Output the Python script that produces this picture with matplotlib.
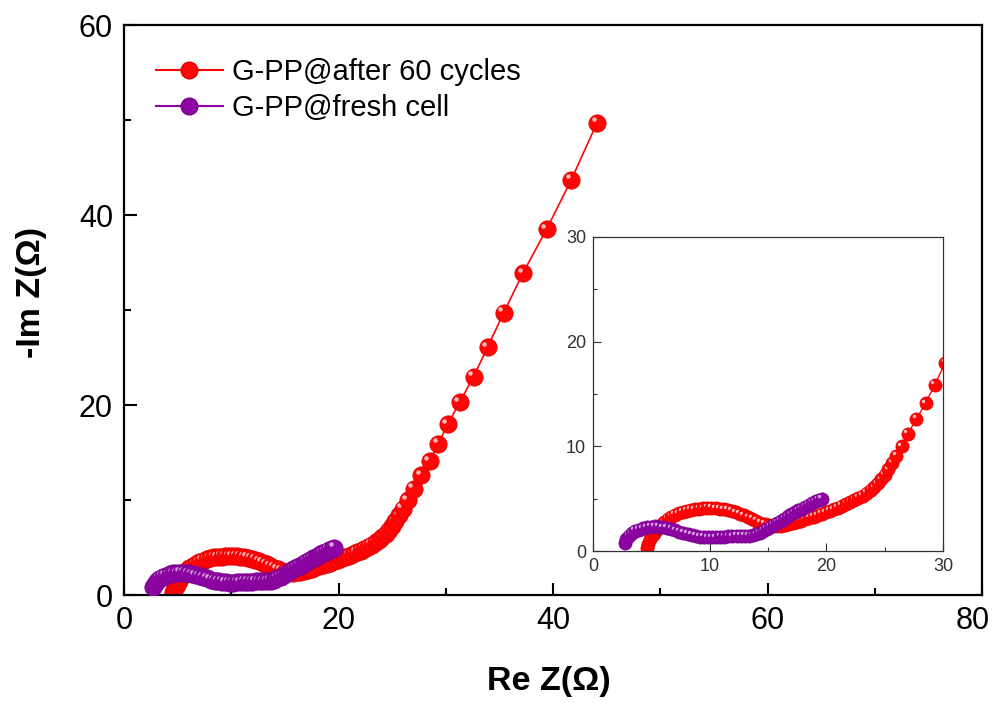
import matplotlib
matplotlib.use("Agg")
import matplotlib.pyplot as plt
from matplotlib.ticker import MultipleLocator, FuncFormatter
from matplotlib.transforms import offset_copy
from matplotlib.lines import Line2D

plt.rcParams['font.family'] = ['Liberation Sans', 'DejaVu Sans']

# Nyquist data: G-PP after 60 cycles
re_cycled = [4.6, 4.75, 4.9, 5.1, 5.3, 5.55, 5.8, 6.1, 6.4, 6.7, 7.0, 7.35, 7.7,
             8.05, 8.4, 8.75, 9.1, 9.45, 9.8, 10.15, 10.5, 10.85, 11.2, 11.55,
             11.9, 12.25, 12.6, 12.95, 13.3, 13.65, 14.0, 14.35, 14.7, 15.05,
             15.4, 15.75, 16.1, 16.45, 16.8, 17.15, 17.5, 17.85, 18.2, 18.55,
             18.9, 19.25, 19.6, 19.95, 20.3, 20.65, 21.0, 21.35, 21.7, 22.05,
             22.4, 22.75, 23.1, 23.45, 23.8, 24.1, 24.4, 24.7, 25.0, 25.3,
             25.65, 26.0, 26.45, 27.0, 27.7, 28.5, 29.3, 30.2, 31.3, 32.6,
             33.9, 35.4, 37.2, 39.4, 41.7, 44.1]
im_cycled = [0.3, 0.7, 1.1, 1.5, 1.85, 2.2, 2.5, 2.8, 3.05, 3.25, 3.45, 3.6, 3.75,
             3.85, 3.95, 4.0, 4.05, 4.08, 4.1, 4.1, 4.08, 4.05, 4.0, 3.92,
             3.82, 3.7, 3.55, 3.4, 3.22, 3.05, 2.88, 2.72, 2.58, 2.45,
             2.38, 2.35, 2.38, 2.45, 2.55, 2.65, 2.78, 2.9, 3.02, 3.15,
             3.28, 3.42, 3.56, 3.7, 3.85, 4.0, 4.15, 4.32, 4.5, 4.68,
             4.88, 5.08, 5.3, 5.55, 5.82, 6.1, 6.45, 6.85, 7.3, 7.8,
             8.4, 9.1, 10.0, 11.2, 12.6, 14.1, 15.9, 18.0, 20.3, 23.0,
             26.1, 29.7, 33.9, 38.5, 43.7, 49.7]

# Nyquist data: G-PP fresh cell
re_fresh = [2.7, 2.85, 3.05, 3.3, 3.6, 3.9, 4.25, 4.6, 4.95, 5.3, 5.65, 6.0,
            6.35, 6.7, 7.05, 7.4, 7.75, 8.1, 8.45, 8.8, 9.15, 9.5, 9.85, 10.2,
            10.55, 10.9, 11.25, 11.6, 11.95, 12.3, 12.65, 13.0, 13.35, 13.7,
            14.0, 14.3, 14.6, 14.9, 15.2, 15.5, 15.8, 16.1, 16.4, 16.7, 17.0,
            17.3, 17.6, 17.9, 18.2, 18.5, 18.8, 19.1, 19.35, 19.6]
im_fresh = [0.8, 1.15, 1.45, 1.7, 1.9, 2.05, 2.18, 2.27, 2.32, 2.35, 2.33, 2.28,
            2.2, 2.1, 1.98, 1.86, 1.74, 1.62, 1.52, 1.44, 1.38, 1.33, 1.3, 1.3,
            1.32, 1.35, 1.38, 1.4, 1.42, 1.43, 1.43, 1.44, 1.46, 1.5,
            1.6, 1.75, 1.92, 2.1, 2.3, 2.5, 2.7, 2.9, 3.1, 3.3, 3.5,
            3.7, 3.88, 4.05, 4.22, 4.4, 4.58, 4.75, 4.88, 5.0]

labels = ['G-PP@after 60 cycles', 'G-PP@fresh cell']

RED = '#ff0505'
RED_EDGE = '#e00000'
RED_HI = '#ffbcbc'
PURPLE = '#8f05a3'
PURPLE_EDGE = '#7a0090'
PURPLE_HI = '#d9a0e6'

fig = plt.figure(figsize=(9.96, 7.03), dpi=100)
ax = fig.add_axes([0.1245, 0.1536, 0.8615, 0.8108])


def draw_series(a, x, y, color, edge, hi, ms, lw, z0):
    """Line plus shaded spheres drawn point by point, so later points overlap earlier ones."""
    a.plot(x, y, '-', color=color, lw=lw, zorder=z0)
    shift = ms * 0.2
    tr = offset_copy(a.transData, fig=a.figure, x=-shift, y=shift,
                     units='points')
    for i, (xi, yi) in enumerate(zip(x, y)):
        z = z0 + 0.01 + i * 0.002
        a.plot([xi], [yi], 'o', color=color, mec=edge, mew=0.5, ms=ms,
               zorder=z)
        a.plot([xi], [yi], 'o', color=hi, mec='none', ms=ms * 0.26,
               transform=tr, zorder=z + 0.001)


draw_series(ax, re_cycled, im_cycled, RED, RED_EDGE, RED_HI, 12.5, 1.2, 2)
draw_series(ax, re_fresh, im_fresh, PURPLE, PURPLE_EDGE, PURPLE_HI, 12.5, 1.2, 3)

ax.set_xlim(0, 80)
ax.set_ylim(0, 60)
ax.xaxis.set_major_locator(MultipleLocator(20))
ax.xaxis.set_minor_locator(MultipleLocator(10))
ax.yaxis.set_major_locator(MultipleLocator(20))
ax.yaxis.set_minor_locator(MultipleLocator(10))
# the rightmost x label is placed separately so it stays on the canvas
ax.xaxis.set_major_formatter(FuncFormatter(
    lambda v, p: '' if v >= 80 else f'{v:.0f}'))
ax.tick_params(which='both', direction='in', top=False, right=False,
               labelsize=22, width=1.5, pad=8)
ax.tick_params(which='major', length=9)
ax.tick_params(which='minor', length=5)
ax.annotate('80', xy=(80, 0), xycoords=('data', 'axes fraction'),
            xytext=(-6.5, -8), textcoords='offset points',
            ha='center', va='top', fontsize=22, annotation_clip=False)
for s in ax.spines.values():
    s.set_linewidth(1.6)
ax.set_xlabel('Re Z(Ω)', fontsize=24.5, fontweight='bold')
ax.set_ylabel('-Im Z(Ω)', fontsize=24.5, fontweight='bold')
ax.xaxis.set_label_coords(0.495, -0.125)
ax.yaxis.set_label_coords(-0.09, 0.53)

handles = [
    Line2D([], [], color=RED, lw=1.5, marker='o', ms=12, mfc=RED, mec=RED_EDGE),
    Line2D([], [], color=PURPLE, lw=1.5, marker='o', ms=12, mfc=PURPLE,
           mec=PURPLE_EDGE),
]
ax.legend(handles, labels, loc='upper left', bbox_to_anchor=(0.037, 0.942),
          frameon=False, fontsize=21, handlelength=2.3, handletextpad=0.3,
          labelspacing=0.28, borderaxespad=0, borderpad=0)

# Inset: zoom on the high-frequency region
ins = fig.add_axes([0.5954, 0.2162, 0.3514, 0.4467])
draw_series(ins, re_cycled, im_cycled, RED, RED_EDGE, RED_HI, 9.5, 1.0, 2)
draw_series(ins, re_fresh, im_fresh, PURPLE, PURPLE_EDGE, PURPLE_HI, 9.5, 1.0, 3)
ins.set_xlim(0, 30)
ins.set_ylim(0, 30)
ins.xaxis.set_major_locator(MultipleLocator(10))
ins.xaxis.set_minor_locator(MultipleLocator(5))
ins.yaxis.set_major_locator(MultipleLocator(10))
ins.yaxis.set_minor_locator(MultipleLocator(5))
ins.tick_params(which='both', direction='in', top=False, right=False,
                labelsize=13, width=0.8, colors='#333333', pad=5)
ins.tick_params(which='major', length=6)
ins.tick_params(which='minor', length=3)
for s in ins.spines.values():
    s.set_linewidth(0.9)
    s.set_color('#333333')

fig.savefig('out.png', dpi=100)
